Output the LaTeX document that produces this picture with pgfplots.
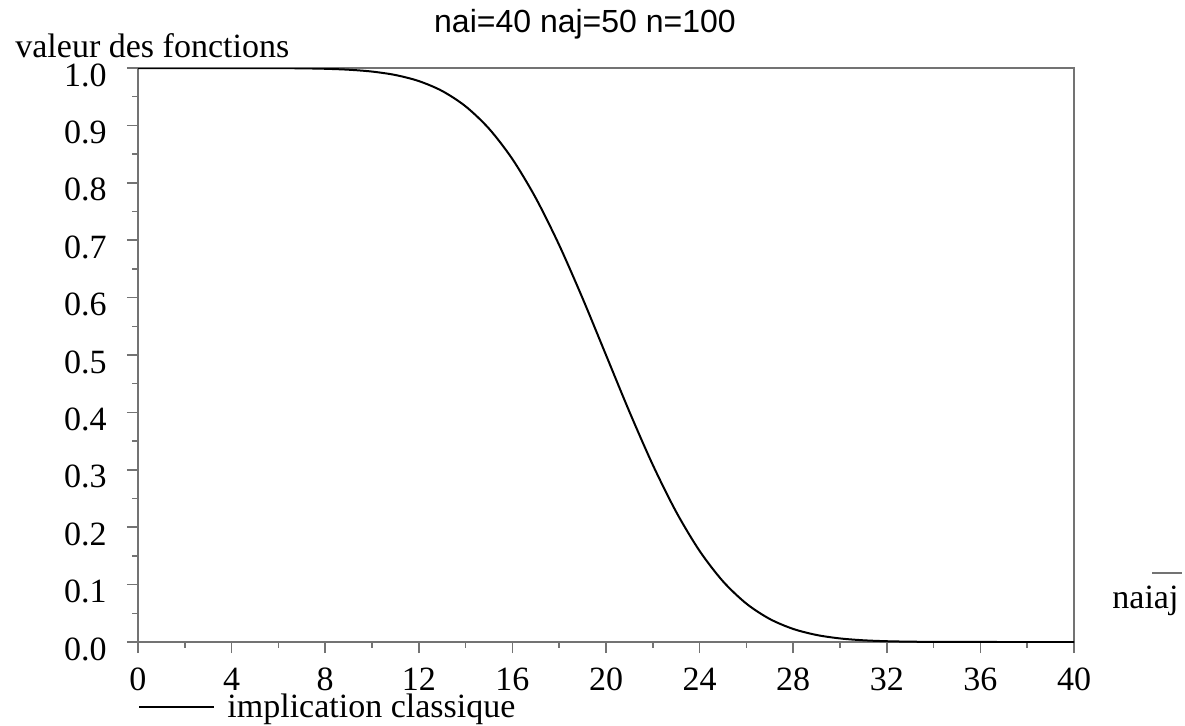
\documentclass[border=0pt]{standalone}
\usepackage{fontspec}
\setmainfont{Liberation Serif}
\newfontfamily\arialfont{Liberation Sans}
\usepackage{pgfplots}
\pgfplotsset{compat=1.18}

\begin{document}
\begin{tikzpicture}
\path[use as bounding box] (0,0) rectangle (592.5pt,362.5pt);
\begin{axis}[
  at={(69pt,41.5pt)}, anchor=south west,
  scale only axis, width=468pt, height=287pt,
  xmin=0, xmax=40, ymin=0, ymax=1,
  xtick={0,4,...,40}, ytick={0,0.1,0.2,0.3,0.4,0.5,0.6,0.7,0.8,0.9,1.0},
  minor x tick num=1, minor y tick num=1,
  tick pos=left, tick align=outside,
  major tick length=5.5pt, minor tick length=2.75pt,
  every tick/.style={black!55, line width=0.75pt},
  axis line style={black!55, line width=0.9pt},
  /pgf/number format/assume math mode=true,
  font=\fontsize{17}{20}\selectfont,
  yticklabel style={/pgf/number format/fixed, /pgf/number format/fixed zerofill,
    /pgf/number format/precision=1, anchor=east, inner sep=0pt, xshift=-10pt, yshift=-3.5pt},
  xticklabel style={anchor=base, inner sep=0pt, yshift=-18.5pt},
  legend style={draw=none, fill=none, inner sep=0pt, at={(0,-0.1135)}, anchor=west,
    font=\fontsize{17}{20}\selectfont, column sep=6pt, nodes={inner sep=0pt}},
  legend image code/.code={\draw[#1] (0pt,0pt) -- (37.5pt,0pt);},
]
\addplot[black, line width=1pt, smooth] coordinates {
(0,1.0) (2,1.0) (4,0.99997) (6,0.99977) (7,0.99942) (8,0.99865) (9,0.99702)
(10,0.99379) (11,0.98778) (12,0.97725) (13,0.95994) (14,0.93319) (15,0.89435)
(16,0.84134) (17,0.77337) (18,0.69146) (19,0.59871) (20,0.5) (21,0.40129)
(22,0.30854) (23,0.22663) (24,0.15866) (25,0.10565) (26,0.06681) (27,0.04006)
(28,0.02275) (29,0.01222) (30,0.00621) (31,0.00298) (32,0.00135) (33,0.00058)
(34,0.00023) (36,0.00003) (38,0.0) (40,0.0)
};
\addlegendentry{implication classique}
\end{axis}
\node[font=\arialfont\fontsize{16}{19}\selectfont, anchor=base, inner sep=0pt] at (292.5pt,346pt) {nai=40 naj=50 n=100};
\node[font=\fontsize{17}{20}\selectfont, anchor=base west, inner sep=0pt] at (7.5pt,334pt) {valeur des fonctions};
\node[font=\fontsize{17}{20}\selectfont, anchor=base west, inner sep=0pt] at (556pt,58.5pt) {naiaj};
\draw[black!55, line width=0.8pt] (576pt,76pt) -- (591pt,76pt);
\end{tikzpicture}
\end{document}
